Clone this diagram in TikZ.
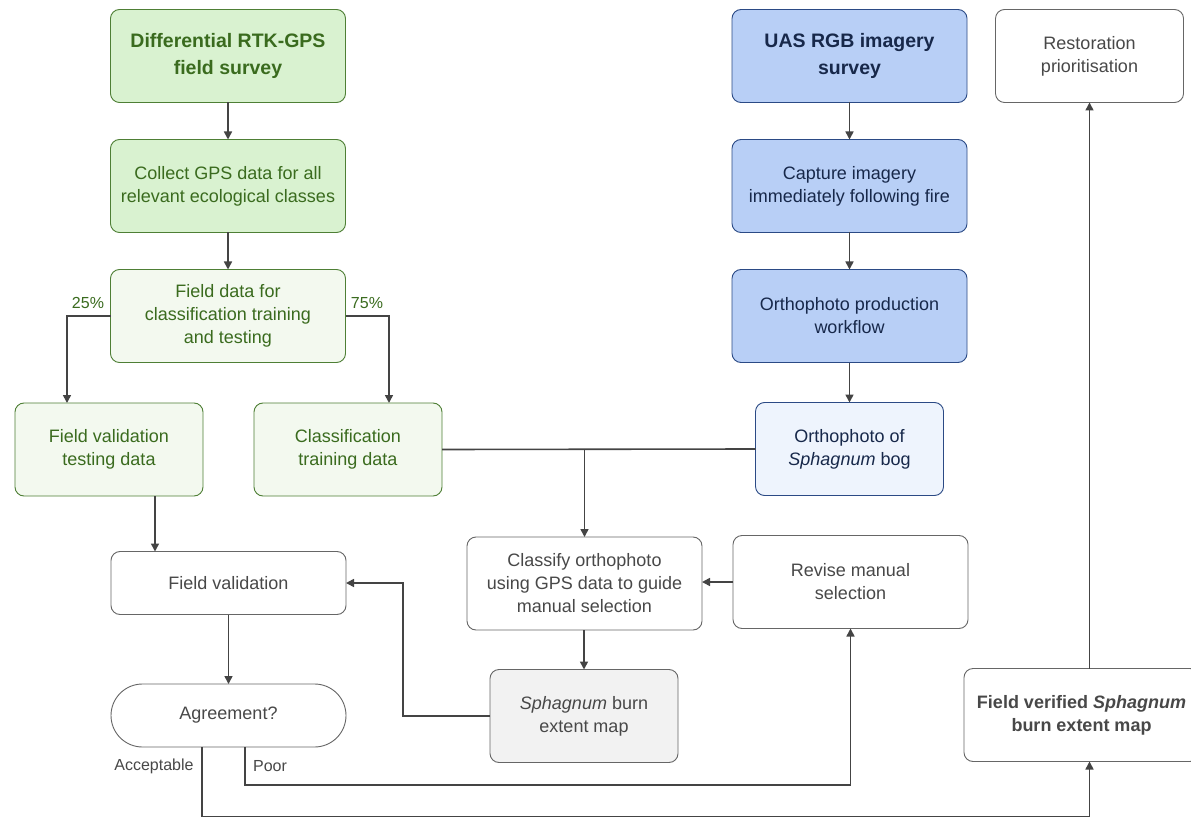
\documentclass[tikz,border=0pt]{standalone}
\usepackage{fontspec}
\setmainfont{Liberation Sans}
\usetikzlibrary{arrows.meta,calc}
\definecolor{gfill}{HTML}{D9F2D0}
\definecolor{gfilltwo}{HTML}{F3F9EF}
\definecolor{gdraw}{HTML}{4E7F35}
\definecolor{gtext}{HTML}{3A6B1E}
\definecolor{bfill}{HTML}{B8CFF6}
\definecolor{bfilltwo}{HTML}{EEF4FD}
\definecolor{bdraw}{HTML}{2B4A85}
\definecolor{btext}{HTML}{17284A}
\definecolor{wdraw}{HTML}{666666}
\definecolor{wtext}{HTML}{484848}
\definecolor{mfill}{HTML}{F2F2F2}
\definecolor{linec}{HTML}{444444}
\begin{document}
\begin{tikzpicture}[x=1pt,y=-1pt,
  box/.style={rectangle,rounded corners=9pt,draw,line width=0.9pt,align=center,inner sep=0pt,outer sep=0pt,minimum height=93pt,font=\fontsize{18}{23}\selectfont},
  wide/.style={minimum width=235pt},
  narrow/.style={minimum width=188pt},
  gbox/.style={box,fill=gfill,draw=gdraw,text=gtext},
  glbox/.style={box,fill=gfilltwo,draw=gdraw,text=gtext},
  bbox/.style={box,fill=bfill,draw=bdraw,text=btext},
  blbox/.style={box,fill=bfilltwo,draw=bdraw,text=btext},
  wbox/.style={box,fill=white,draw=wdraw,text=wtext},
  title/.style={font=\fontsize{19.5}{27}\selectfont\bfseries},
  arr/.style={draw=linec,line width=1.6pt,-{Triangle[length=8pt,width=8pt]}},
  conn/.style={draw=linec,line width=1.6pt},
  lab/.style={font=\fontsize{16}{18}\selectfont,inner sep=0pt}
]
\fill[white] (0,0) rectangle (1191,818);
\useasboundingbox (0,0) rectangle (1191,818);

% left column
\node[gbox,wide,title] (A) at (228,56) {Differential RTK-GPS\\field survey};
\node[gbox,wide] (B) at (228,186) {Collect GPS data for all\\relevant ecological classes};
\node[glbox,wide] (C) at (228,316) {Field data for\\classification training\\and testing};
\node[glbox,narrow] (D) at (109,449.5) {Field validation\\testing data};
\node[glbox,narrow] (E) at (348,449.5) {Classification\\training data};

% right blue column
\node[bbox,wide,title] (F) at (849.5,56) {UAS RGB imagery\\survey};
\node[bbox,wide] (G) at (849.5,186) {Capture imagery\\immediately following fire};
\node[bbox,wide] (H) at (849.5,316) {Orthophoto production\\workflow};
\node[blbox,narrow] (I) at (849.5,449) {Orthophoto of\\\textit{Sphagnum} bog};

\node[wbox,narrow] (J) at (1089.5,56) {Restoration\\prioritisation};

% middle
\node[wbox,wide] (K) at (584.5,583.5) {Classify orthophoto\\using GPS data to guide\\manual selection};
\node[wbox,wide] (L) at (850.5,582) {Revise manual\\selection};
\node[wbox,narrow,fill=mfill] (M) at (584,716) {\textit{Sphagnum} burn\\extent map};

\node[wbox,wide,minimum height=63pt] (N) at (228.5,583) {Field validation};
\node[wbox,wide,minimum height=63pt,rounded corners=31.5pt] (Q) at (228.5,715.5) {Agreement?};

\node[wbox,wide] (O) at (1081.5,715) {\textbf{Field verified \textit{Sphagnum}}\\\textbf{burn extent map}};

% connectors
\draw[arr] (A) -- (B);
\draw[arr] (B) -- (C);
\draw[arr] (C.west) -| ([xshift=-42pt]D.north);
\draw[arr] (C.east) -| ([xshift=41pt]E.north);
\node[lab,text=gtext] (l25) at (88,303) {25\%};
\node[lab,text=gtext] (l75) at (367,303) {75\%};

\draw[arr] (F) -- (G);
\draw[arr] (G) -- (H);
\draw[arr] (H) -- (I);

\draw[conn] (E.east) -- (I.west);
\draw[arr] (E.east -| K.north) -- (K.north);

\draw[arr] ([xshift=46pt]D.south) -- ([xshift=46pt]D.south |- N.north);
\draw[arr] (N) -- (Q);
\draw[arr] (L.west) -- (L.west -| K.east);
\draw[arr] (K.south -| M.north) -- (M.north);
\draw[arr] (M.west) -- ++(-87,0) |- (N.east);

\draw[arr] (O.north -| J.south) -- (J.south);

\draw[arr] ([xshift=-26.5pt]Q.south) -- ++(0,69.5) -| (O.south -| J.south);
\draw[arr] ([xshift=16.5pt]Q.south) -- ++(0,38) -| (L.south);
\node[lab,text=wtext] (lacc) at (154,766) {Acceptable};
\node[lab,text=wtext] (lpoor) at (270,766) {Poor};
\end{tikzpicture}
\end{document}
